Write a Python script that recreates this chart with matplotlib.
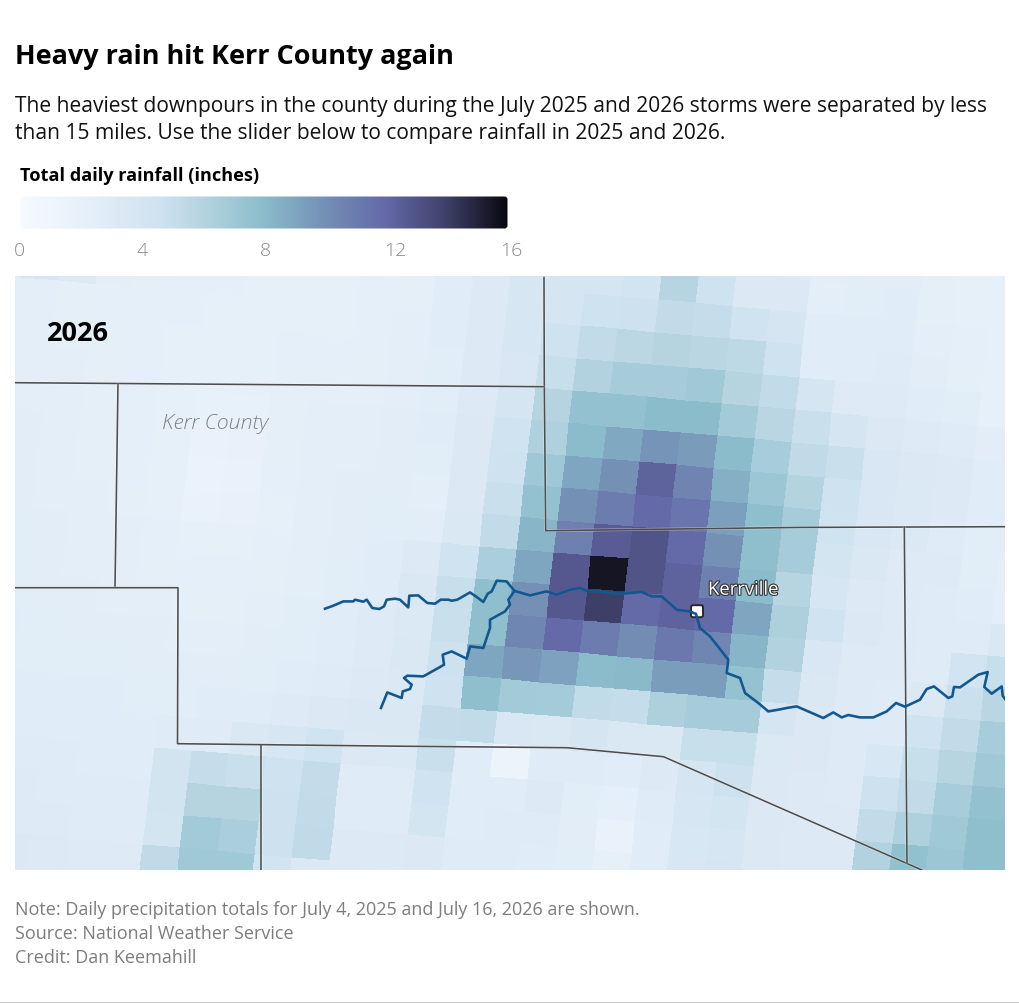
import numpy as np
import matplotlib
matplotlib.use("Agg")
import matplotlib.pyplot as plt
import matplotlib.patheffects as pe
from matplotlib.colors import LinearSegmentedColormap
from matplotlib.patches import FancyBboxPatch, Rectangle

plt.rcParams['font.family'] = ['Open Sans', 'DejaVu Sans']

W, H, DPI = 1020, 1004, 100

TITLE = "Heavy rain hit Kerr County again"
SUBTITLE = ["The heaviest downpours in the county during the July 2025 and 2026 storms were separated by less",
            "than 15 miles. Use the slider below to compare rainfall in 2025 and 2026."]
LEGEND_TITLE = "Total daily rainfall (inches)"
LEGEND_TICKS = ["0", "4", "8", "12", "16"]
FOOTER = ["Note: Daily precipitation totals for July 4, 2025 and July 16, 2026 are shown.",
          "Source: National Weather Service",
          "Credit: Dan Keemahill"]

cmap_stops = [(0, "#f7fbff"), (2.5, "#e3eef8"), (3.3, "#dce9f5"), (4.5, "#d0e3f0"), (5.3, "#c2dbe8"),
              (6, "#b5d4e0"), (7, "#a0c9d6"), (8, "#8bbccb"), (10, "#7490b5"), (12, "#6469a8"),
              (14, "#3f4068"), (16, "#08080f")]

# Rainfall grid, inches. Rows north to south, columns west to east.
rain_r00 = [2.4,2.4,2.4,2.3,2.3,2.3,2.2,2.2,2.2,2.2,2.2,2.2,2.5,3.0,3.6,3.9,3.9,4.2,5.2,4.6,3.4,3.0,2.6,2.6,2.6,2.4,2.2,2.1,2.1,2.0]
rain_r01 = [2.4,2.4,2.4,2.3,2.3,2.3,2.2,2.2,2.2,2.2,2.2,2.3,2.8,3.2,3.9,4.0,4.0,4.4,5.9,4.6,3.3,3.3,2.5,2.7,2.8,2.4,2.2,2.1,2.0,2.0]
rain_r02 = [2.6,4.0,3.4,2.5,2.4,2.3,2.3,2.2,2.2,2.2,2.3,2.4,2.8,3.2,3.9,4.0,4.6,4.7,5.3,5.1,4.5,4.0,2.8,2.8,2.8,2.5,2.3,2.1,2.0,2.0]
rain_r03 = [2.5,2.5,2.4,2.3,2.3,2.3,2.2,2.1,2.2,2.2,2.3,2.5,2.8,3.2,3.9,4.6,5.3,5.7,6.0,5.8,5.5,4.6,2.8,2.8,3.0,2.6,2.4,2.2,2.1,2.0]
rain_r04 = [2.5,2.5,2.4,2.4,2.3,2.2,2.2,2.2,2.3,2.3,2.4,2.5,2.7,3.2,3.7,5.0,6.2,6.7,6.7,7.0,6.0,5.3,4.0,3.1,3.1,2.8,2.7,2.2,2.1,2.0]
rain_r05 = [2.5,2.5,2.5,2.4,2.3,2.2,2.1,2.2,2.4,2.4,2.4,2.5,2.7,3.2,4.0,6.0,7.6,7.6,8.0,8.0,6.9,5.8,4.9,4.0,3.3,3.1,3.0,2.6,2.3,2.1]
rain_r06 = [2.5,2.5,2.5,2.4,2.3,2.2,2.0,2.0,2.4,2.5,2.5,2.6,2.8,3.3,4.5,6.3,8.0,8.9,9.8,9.5,8.0,6.6,5.4,4.9,3.7,3.3,3.2,2.8,2.4,2.2]
rain_r07 = [2.6,2.6,2.5,2.4,2.3,2.2,1.7,1.9,2.4,2.5,2.5,2.6,2.7,3.3,4.6,7.1,9.0,10.0,12.3,10.6,8.6,7.2,6.1,4.6,3.7,3.4,3.2,2.9,2.5,2.3]
rain_r08 = [2.6,2.6,2.5,2.4,2.3,2.1,1.6,1.8,2.3,2.5,2.6,2.6,2.5,3.3,4.9,7.6,10.0,11.0,12.0,11.4,9.3,7.8,6.7,4.5,3.6,3.4,3.0,2.7,2.5,2.3]
rain_r09 = [2.6,2.6,2.5,2.5,2.4,2.2,1.8,1.9,2.2,2.5,2.6,2.7,2.6,3.5,5.3,8.3,10.8,12.6,13.0,12.0,10.0,7.8,6.7,4.2,3.5,3.1,3.1,2.7,2.4,2.3]
rain_r10 = [2.7,2.7,2.6,2.5,2.5,2.3,2.2,2.2,2.3,2.5,2.6,2.8,3.2,4.5,6.5,9.0,12.8,15.5,13.0,12.3,10.8,8.0,5.9,3.9,3.2,3.1,3.0,2.8,2.5,2.3]
rain_r11 = [2.7,2.7,2.6,2.5,2.5,2.4,2.3,2.3,2.4,2.5,2.7,2.9,3.5,5.0,7.8,10.0,12.8,14.0,12.0,12.3,12.0,9.0,6.4,4.5,3.3,3.1,3.0,3.0,3.5,3.2]
rain_r12 = [2.7,2.7,2.6,2.6,2.5,2.5,2.4,2.4,2.5,2.7,2.8,3.1,3.4,4.9,7.8,10.5,12.0,11.0,10.2,11.2,10.5,8.3,6.2,3.7,3.1,3.1,3.0,4.3,5.0,4.6]
rain_r13 = [2.8,2.8,2.7,2.6,2.6,2.6,2.5,2.5,2.6,2.7,2.9,3.1,3.5,4.7,9.0,9.7,9.2,8.0,8.1,9.4,9.4,7.5,5.1,3.5,3.1,3.0,3.4,4.8,5.8,5.6]
rain_r14 = [2.8,2.8,2.7,2.7,2.7,2.6,2.6,2.6,2.7,2.8,3.0,3.2,3.4,4.6,7.8,6.9,6.8,5.3,5.1,6.4,6.7,6.7,4.0,3.3,3.1,3.1,4.5,5.3,6.6,6.6]
rain_r15 = [2.9,2.9,2.8,2.8,2.8,2.7,2.7,2.8,2.9,3.1,3.3,3.5,3.5,5.2,5.3,3.6,3.5,4.0,3.5,3.5,5.0,5.0,3.4,3.3,3.1,3.8,5.0,5.9,7.0,7.0]
rain_r16 = [2.9,3.0,2.9,2.9,2.9,2.9,3.0,3.0,3.5,3.9,4.5,3.3,3.4,4.9,2.8,1.5,3.0,3.0,2.9,3.2,4.0,4.7,3.3,3.2,3.1,4.7,5.3,6.6,7.6,7.6]
rain_r17 = [3.0,3.0,3.0,3.0,2.9,2.9,4.4,5.1,4.9,4.6,5.2,3.0,3.0,4.5,2.8,2.8,3.2,2.7,2.3,3.0,3.9,4.2,3.3,3.2,3.2,5.3,6.3,7.0,7.8,7.8]
rain_r18 = [3.1,3.1,3.1,3.0,3.0,3.0,4.4,6.0,6.0,4.7,5.3,3.0,3.0,4.2,2.8,3.0,3.0,2.6,1.8,2.8,3.8,3.9,3.3,3.2,3.2,6.2,7.7,7.2,7.8,7.8]
rain_r19 = [3.2,3.2,3.1,3.1,3.0,3.0,4.2,6.9,6.5,4.7,5.4,3.2,3.2,3.3,3.0,3.0,2.9,2.7,2.1,2.8,3.6,4.0,3.4,3.2,3.2,6.8,7.8,7.6,7.9,8.0]
rain_r20 = [3.4,3.4,3.3,3.2,3.1,3.1,5.4,7.0,7.0,4.3,3.3,3.2,3.1,3.2,3.2,3.1,3.0,2.9,2.7,3.0,3.6,4.2,3.5,3.2,3.2,6.2,8.0,7.6,8.0,8.0]
rain_r21 = [3.5,3.5,3.3,3.3,3.2,3.2,5.0,7.0,7.0,4.2,3.2,3.2,3.1,3.2,3.2,3.1,3.1,3.0,2.9,3.0,3.5,4.0,3.5,3.2,3.2,6.0,8.0,7.8,8.0,8.0]

rain = np.array([rain_r00, rain_r01, rain_r02, rain_r03, rain_r04, rain_r05, rain_r06, rain_r07,
                 rain_r08, rain_r09, rain_r10, rain_r11, rain_r12, rain_r13, rain_r14, rain_r15,
                 rain_r16, rain_r17, rain_r18, rain_r19, rain_r20, rain_r21])

# County outlines, projected map units.
county_a = [(544, 277), (544.3, 387), (545.7, 531), (800, 527.7), (1005, 527)]
county_b = [(15, 383), (544.3, 387)]
county_c = [(118, 384), (115, 588)]
county_d = [(15, 588), (178, 588), (177.5, 744), (400, 746.5), (567, 748), (663.5, 757), (925, 871.7)]
county_e = [(261, 745.3), (261, 871)]
county_f = [(904.3, 527), (907, 864)]
counties = [county_a, county_b, county_c, county_d, county_e, county_f]

# Guadalupe river forks.
river_north = [(325,609),(333.3,606),(343.3,601.7),(353.3,601.7),(355,600),(363.3,602),(366.7,600),(372.3,608.3),
               (379.3,609.3),(384,606.7),(386.7,600),(395,599),(400,600),(408.3,607.7),(409.3,596),(418.3,595.7),
               (427.3,603.3),(435,604),(440.7,600),(448.3,600),(451.7,601),(457.3,600),(470,592.7),(477.3,597.7),
               (483.3,602.3),(487.7,594),(491.7,591.7),(496.7,581),(506.7,581.7),(509.3,585),(514.5,591.2)]
river_south = [(381,708.3),(387.3,692.7),(401.7,698.3),(402.7,691.7),(410,689.3),(411.7,685),(404,678.3),(407.3,676),
               (423.3,676.7),(440,667.3),(444,665),(442.7,655),(451.7,651.7),(466.7,659),(470,646.7),(483.3,648.3),
               (490,628.3),(490,620),(505,611.7),(510,605),(508.3,600),(514.5,591.2)]
river_main = [(514.5,591.2),(530,595.7),(546.7,591.7),(556.7,595),(570,590),(580,588.3),(588.3,591.7),(600,591.7),
              (618.3,594.3),(641.7,592.3),(651.7,596.7),(661.7,596.7),(676.7,610),(690,611.7),(696,614.3),(700,628.3),
              (710,636.7),(728.3,660),(726.7,673.3),(740,678.3),(745,693.3),(758.3,703.3),(768.3,711.7),(778.3,710),
              (786.7,708.3),(796.7,706.7),(823.3,718.3),(833.3,712.7),(841.7,717.7),(848.3,715.3),(860,717.7),
              (873.3,717.7),(886.7,711.7),(896,703.3),(905,707),(920,700),(926.7,689.3),(934,686.7),(948.3,698.3),
              (952.3,696.7),(954,687.3),(960,687.7),(978.3,675),(987.7,672.3),(984.3,687.3),(991.7,694),(1001.7,686.7),
              (1002.7,696),(1005,699.3)]
rivers = [river_north, river_south, river_main]

CITY = ("Kerrville", 697, 611.5)
COUNTY_LABEL = ("Kerr County", 162, 423)
YEAR = "2026"

fig = plt.figure(figsize=(W / DPI, H / DPI), dpi=DPI, facecolor="white")
PX = 72 / DPI
NUDGE = 0.7


def axes_px(x0, y0, x1, y1):
    return fig.add_axes([x0 / W, 1 - y1 / H, (x1 - x0) / W, (y1 - y0) / H])


def ftext(x, y, s, size_px, **kw):
    return fig.text(x / W, 1 - y / H, s, fontsize=size_px * PX, va="center", **kw)


cmap = LinearSegmentedColormap.from_list("rain", [(v / 16, c) for v, c in cmap_stops], N=512)

# Map panel: rotated rainfall grid
ax = axes_px(15, 277, 1005, 871)
ax.set_xlim(15, 1005)
ax.set_ylim(871 - NUDGE, 277 - NUDGE)
ax.axis("off")
ii, jj = np.meshgrid(np.arange(rain.shape[1] + 1) - 17, np.arange(rain.shape[0] + 1) - 10)
gx = 591.5 + 37.3 * ii - 3.8 * jj - 0.05 * np.clip(ii, 0, None) ** 2
gy = 556.5 + 3.2 * ii + 32.4 * jj
ax.pcolormesh(gx, gy, rain, cmap=cmap, vmin=0, vmax=16, shading="flat", antialiased=False, linewidth=0)

for line in counties:
    xs, ys = zip(*line)
    ax.plot(xs, ys, color="#4d4d4d", lw=1.6 * PX, solid_capstyle="butt", zorder=3,
            path_effects=[pe.withStroke(linewidth=2.8 * PX, foreground=(1, 1, 1, 0.45))])
for line in rivers:
    xs, ys = zip(*line)
    ax.plot(xs, ys, color="#12588f", lw=2.6 * PX, solid_joinstyle="round", zorder=4)

ax.add_patch(FancyBboxPatch((CITY[1] - 6, CITY[2] - 6), 12, 12, boxstyle="round,pad=0,rounding_size=2",
                            fc="white", ec="#2b2b2b", lw=2 * PX, zorder=5))
# river passes over the marker's lower-left corner
ax.plot([690, 696, 700], [611.7, 614.3, 628.3], color="#12588f", lw=2.6 * PX, zorder=6)
ax.text(708, 590, CITY[0], fontsize=18.5 * PX, color="white", va="center", zorder=6,
        path_effects=[pe.withStroke(linewidth=2.2 * PX, foreground="#333333")])
ax.text(COUNTY_LABEL[1], COUNTY_LABEL[2], COUNTY_LABEL[0], fontsize=21.4 * PX, color="#828282",
        style="italic", weight="light", va="center", zorder=6)
ax.text(47, 333.5, YEAR, fontsize=27 * PX, color="black", weight="bold", va="center", zorder=6)

# Legend colour bar
cax = axes_px(20, 197, 508, 230)
cax.axis("off")
cax.set_xlim(0, 16)
cax.set_ylim(0, 1)
img = cax.imshow(np.linspace(0, 16, 512).reshape(1, -1), cmap=cmap, vmin=0, vmax=16, aspect="auto",
                 extent=(0, 16, 0, 1), interpolation="bilinear")
clip = FancyBboxPatch((20 + 0.5, H - 230 + 0.5), 487, 32, boxstyle="round,pad=0,rounding_size=3",
                      transform=None, fc="none", ec="none")
cax.add_patch(clip)
img.set_clip_path(clip)

label_px = [19, 142, 265, 395, 511]
for s, x in zip(LEGEND_TICKS, label_px):
    ftext(x, 250.5, s, 19.5, color="#8a8a8a", ha="center", weight="light")

ftext(20, 176, LEGEND_TITLE, 18.1, color="black", weight="bold")
ftext(15, 57.5, TITLE, 27, color="black", weight="bold")
ftext(15, 106.5, SUBTITLE[0], 21, color="#111111")
ftext(15, 134, SUBTITLE[1], 21, color="#111111")
for y, s in zip([910, 934, 958], FOOTER):
    ftext(15, y, s, 18.05, color="#7d7d7d")

fig.add_artist(Rectangle((0, 0), 1, 1.2 / H, transform=fig.transFigure, fc="#cccccc", ec="none"))
fig.savefig("out.png", dpi=DPI, facecolor="white")
